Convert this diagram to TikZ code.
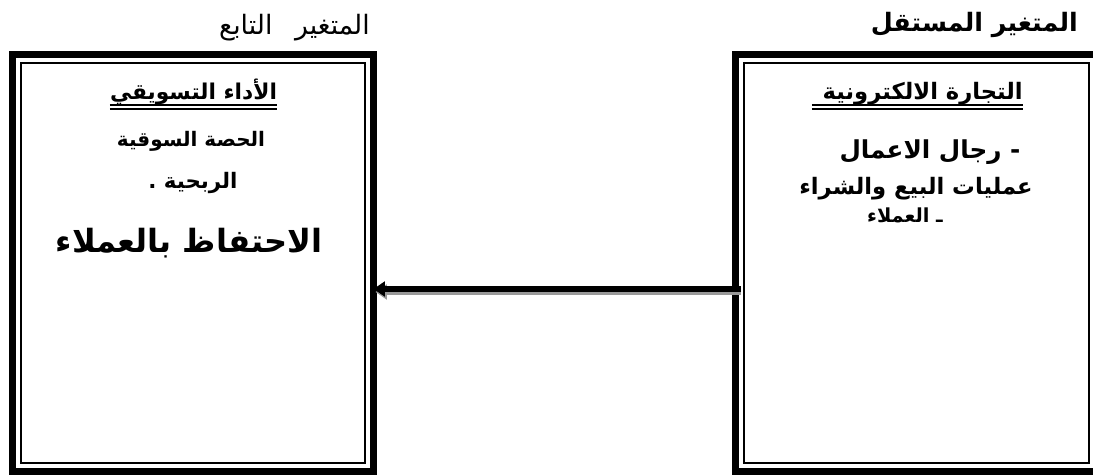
\documentclass[tikz,border=0pt]{standalone}
\usepackage{fontspec}
\usetikzlibrary{arrows.meta,calc}
\TeXXeTstate=1
\newfontfamily\arabicfont[Script=Arabic]{DejaVu Sans}
\newcommand{\artext}[1]{\beginR #1\endR}
\newcommand{\arsize}[1]{\arabicfont\bfseries\fontsize{#1}{#1}\selectfont}
\begin{document}
\begin{tikzpicture}[x=0.75pt,y=-0.75pt,
  outerframe/.style={draw=black,line width=5.25pt,minimum width=270.75pt,minimum height=312.75pt,inner sep=0pt,outer sep=0pt},
  innerframe/.style={draw=black,line width=1.6pt},
  txt/.style={inner sep=0pt,anchor=base},
  uline/.style={line width=1.1pt},
  conn/.style={line width=3.9pt,-{Triangle[length=8.5pt,width=11pt]}},
  shadow/.style={line width=3.9pt,draw=black!40,-{Triangle[length=8.5pt,width=11pt]}}]
\fill[white] (0,0) rectangle (1093,475);
\useasboundingbox (0,0) rectangle (1093,475);

% boxes
\node[outerframe] (lbox) at (193,263) {};
\node[outerframe] (rbox) at (916,263) {};
\draw[innerframe] (21,63) rectangle (365,463);
\draw[innerframe] (744,63) rectangle (1089,463);

% headers
\node[txt,anchor=base east,font=\arabicfont\fontsize{20}{20}\selectfont] (lhead) at (370,34) {\artext{المتغير\hspace{17pt}التابع}};
\node[txt,anchor=base east,font=\arsize{19}] (rhead) at (1078,31) {\artext{المتغير المستقل}};

% left box content
\node[txt,font=\arsize{16.3}] (ltitle) at (193.5,99) {\artext{الأداء التسويقي}};
\draw[uline] ($(ltitle.base west)+(0,6)$) -- ($(ltitle.base east)+(0,6)$);
\draw[uline] ($(ltitle.base west)+(0,10)$) -- ($(ltitle.base east)+(0,10)$);
\node[txt,font=\arsize{15}] (l1) at (191,146) {\artext{الحصة السوقية}};
\node[txt,font=\arsize{16}] (l2) at (193,188) {\artext{الربحية .}};
\node[txt,font=\arsize{24}] (l3) at (189,252) {\artext{الاحتفاظ بالعملاء}};

% right box content
\node[txt,anchor=base east,font=\arsize{17}] (rtitle) at (1023,99) {\artext{التجارة الالكترونية\hspace{8pt}}};
\draw[uline] ($(rtitle.base west)+(0,6)$) -- ($(rtitle.base east)+(0,6)$);
\draw[uline] ($(rtitle.base west)+(0,10)$) -- ($(rtitle.base east)+(0,10)$);
\node[txt,font=\arsize{18.5}] (r1) at (930,158) {\artext{- رجال الاعمال}};
\node[txt,font=\arsize{17}] (r2) at (916,194) {\artext{عمليات البيع والشراء}};
\node[txt,font=\arsize{14.5}] (r3) at (905,222) {\artext{ـ العملاء}};

% connector
\coordinate (astart) at (741,289);
\coordinate (sstart) at (741,292);
\draw[shadow] (sstart) -- ($(lbox.east |- sstart)+(2,0)$);
\draw[conn] (astart) -- (lbox.east |- astart);
\end{tikzpicture}
\end{document}
